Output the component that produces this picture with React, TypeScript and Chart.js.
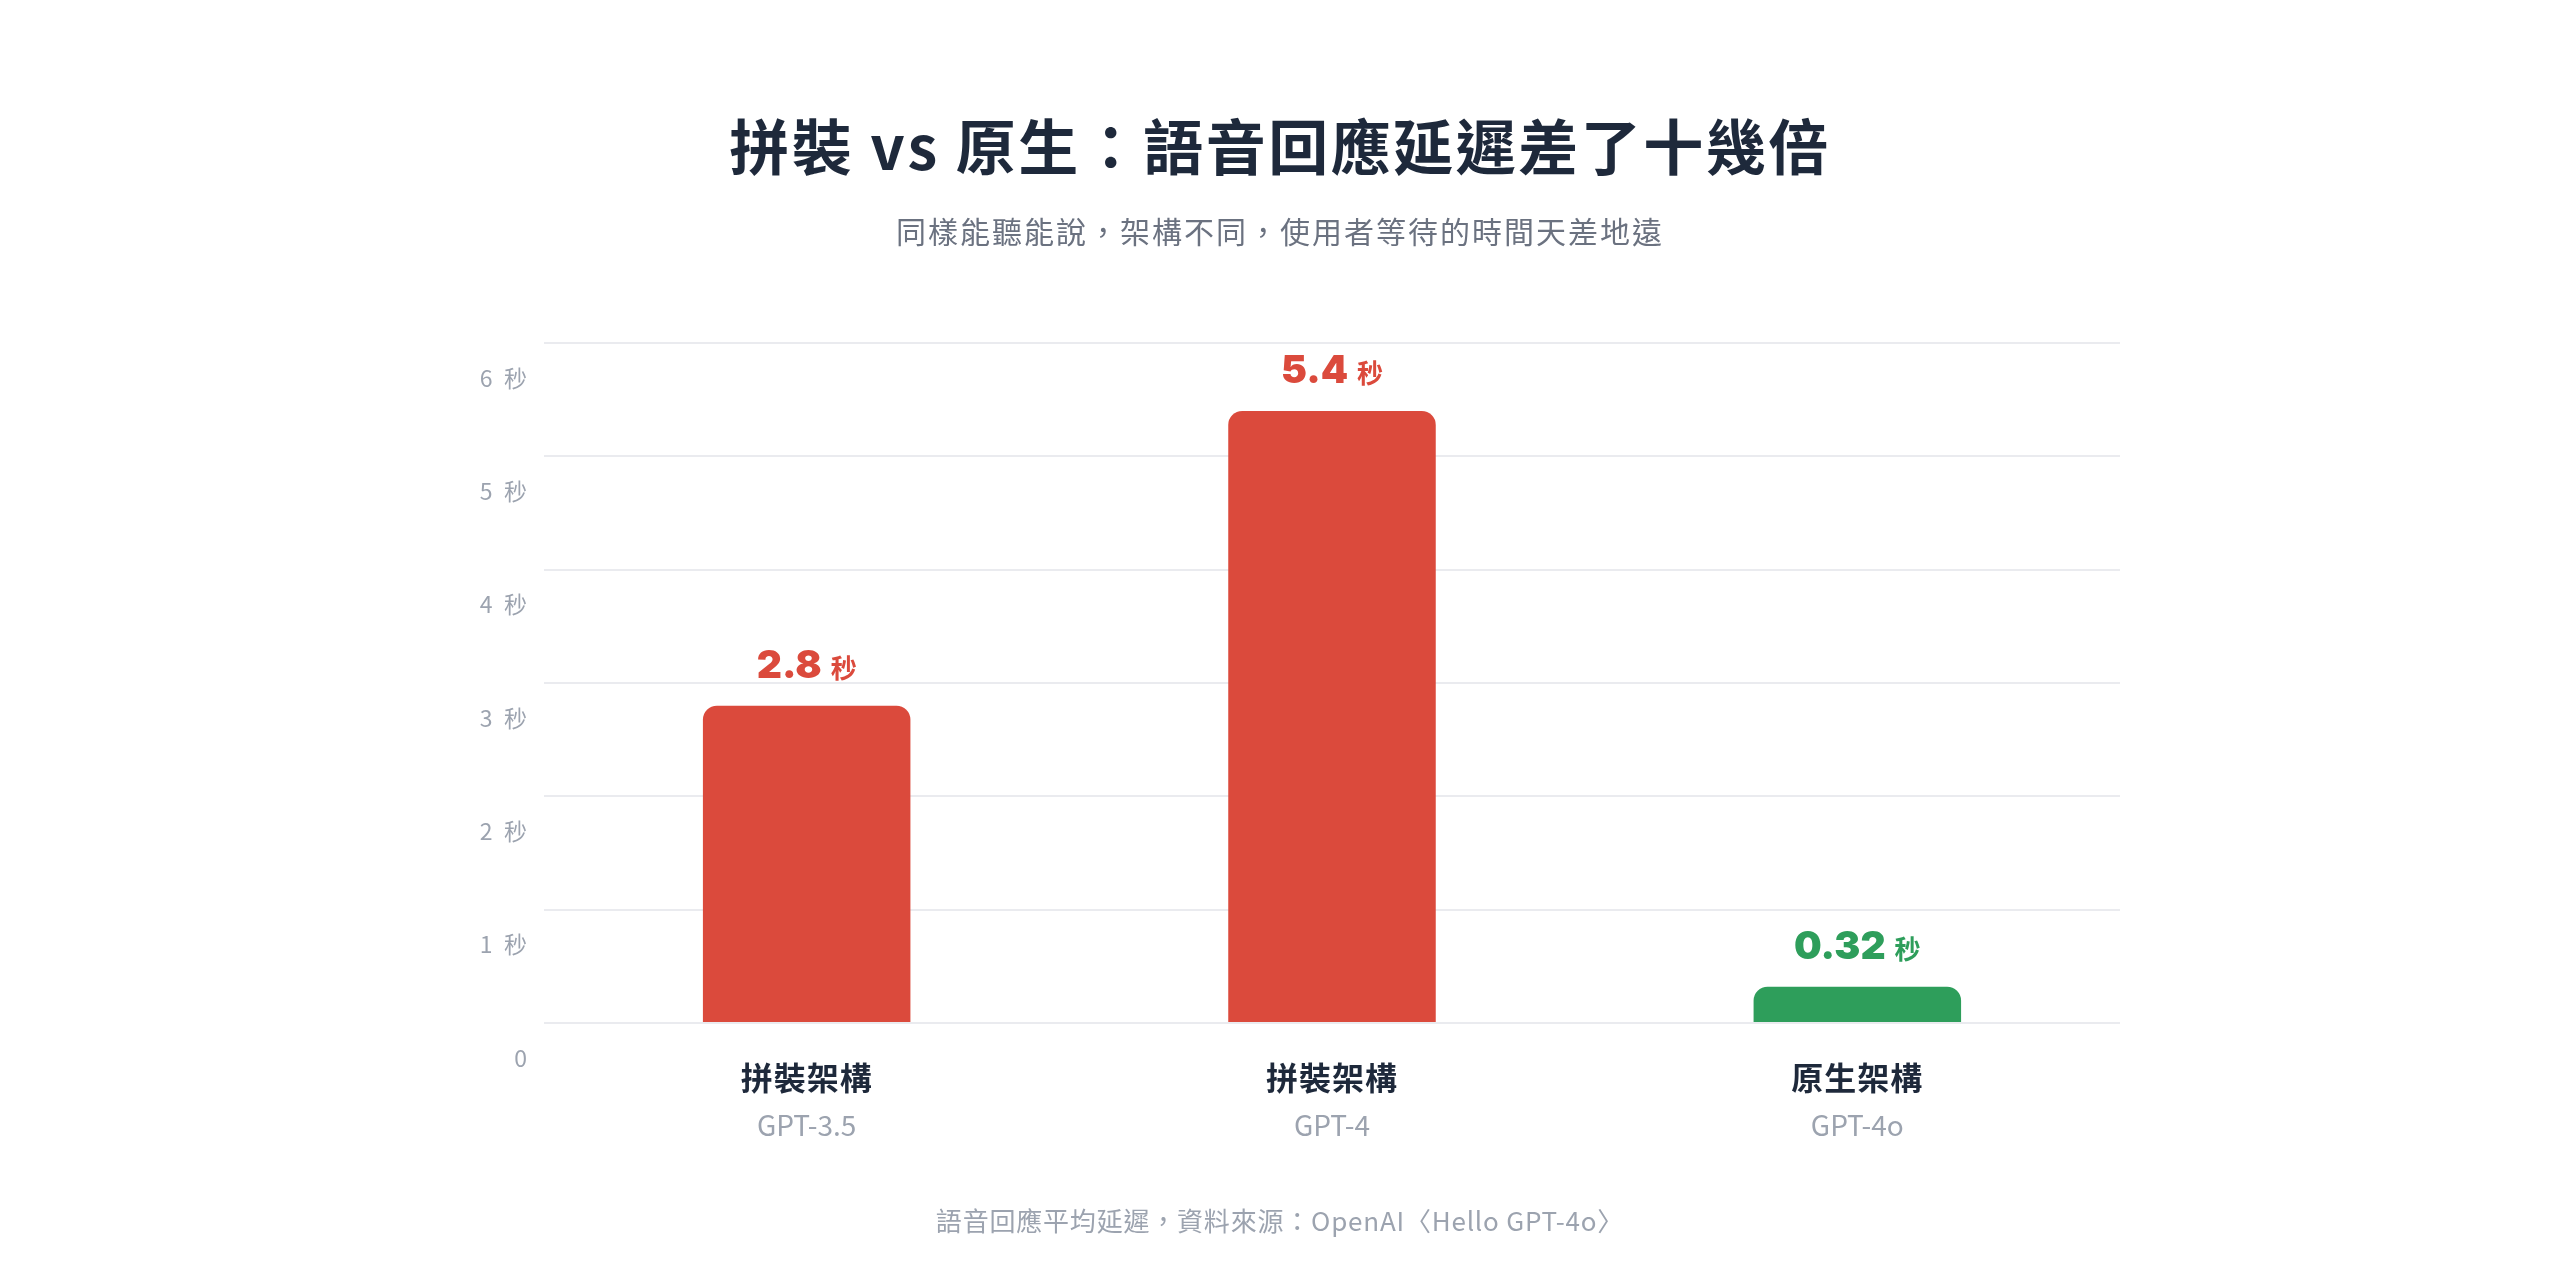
import React, { useEffect, useRef } from 'react';
import { Chart, registerables } from 'chart.js';

Chart.register(...registerables);

// ---- data ----
const categories = ['拼裝架構', '拼裝架構', '原生架構'];
const models = ['GPT-3.5', 'GPT-4', 'GPT-4o'];
const latencySeconds = [2.8, 5.4, 0.32];
const valueLabels = ['2.8', '5.4', '0.32'];
const barColors = ['#DB4A3C', '#DB4A3C', '#2E9E5B'];
const yMin = 0;
const yMax = 6;
const yStep = 1;
const unit = '秒';
const titleText = '拼裝 vs 原生：語音回應延遲差了十幾倍';
const subtitleText = '同樣能聽能說，架構不同，使用者等待的時間天差地遠';
const footerText = '語音回應平均延遲，資料來源：OpenAI〈Hello GPT-4o〉';

const FONT_CJK = '"Noto Sans CJK TC", "Noto Sans", sans-serif';
const FONT_NUM = 'Inter, "Noto Sans", sans-serif';

const W = 2560;
const H = 1263;

const textPlugin = {
  id: 'customText',
  afterDatasetsDraw(chart: any) {
    const ctx = chart.ctx as CanvasRenderingContext2D;
    const meta = chart.getDatasetMeta(0);
    ctx.save();
    meta.data.forEach((bar: any, i: number) => {
      const numText = valueLabels[i];
      ctx.font = `900 39px ${FONT_NUM}`;
      const wNum = ctx.measureText(numText).width;
      ctx.font = `700 26px ${FONT_CJK}`;
      const wUnit = ctx.measureText(unit).width;
      const gap = 9;
      const total = wNum + gap + wUnit;
      const left = bar.x - total / 2;
      const baseline = bar.y - 28;
      ctx.textAlign = 'left';
      ctx.textBaseline = 'alphabetic';
      ctx.fillStyle = barColors[i];
      ctx.font = `900 39px ${FONT_NUM}`;
      ctx.fillText(numText, left, baseline);
      ctx.font = `700 26px ${FONT_CJK}`;
      ctx.fillText(unit, left + wNum + gap, baseline);
    });
    ctx.restore();
  },
  afterDraw(chart: any) {
    const ctx = chart.ctx as CanvasRenderingContext2D;
    const cx = chart.width / 2;
    ctx.save();
    ctx.textAlign = 'center';
    ctx.textBaseline = 'middle';

    // title
    (ctx as any).letterSpacing = '2.5px';
    ctx.fillStyle = '#1E293B';
    ctx.font = `700 60px ${FONT_CJK}`;
    ctx.fillText(titleText, cx, 147);

    // subtitle
    (ctx as any).letterSpacing = '2px';
    ctx.fillStyle = '#6B7280';
    ctx.font = `400 30px ${FONT_CJK}`;
    ctx.fillText(subtitleText, cx, 232);

    // footer
    (ctx as any).letterSpacing = '0.8px';
    ctx.fillStyle = '#9CA3AF';
    ctx.font = `400 26px ${FONT_CJK}`;
    ctx.fillText(footerText, cx, 1221);

    // x labels
    const xs = chart.scales.x;
    categories.forEach((c, i) => {
      const x = xs.getPixelForValue(i);
      (ctx as any).letterSpacing = '1px';
      ctx.fillStyle = '#1E293B';
      ctx.font = `700 32px ${FONT_CJK}`;
      ctx.fillText(c, x, 1078);
      (ctx as any).letterSpacing = '0px';
      ctx.fillStyle = '#9CA3AF';
      ctx.font = `400 28px ${FONT_CJK}`;
      ctx.fillText(models[i], x, 1125);
    });
    ctx.restore();
  },
};

export default function App() {
  const ref = useRef<HTMLCanvasElement | null>(null);

  useEffect(() => {
    if (!ref.current) return;
    const chart = new Chart(ref.current, {
      type: 'bar',
      data: {
        labels: categories,
        datasets: [
          {
            data: latencySeconds,
            backgroundColor: barColors,
            borderRadius: 14,
            borderSkipped: 'start',
            barPercentage: 0.395,
            categoryPercentage: 1,
          },
        ],
      },
      options: {
        responsive: false,
        maintainAspectRatio: false,
        animation: false,
        events: [],
        layout: { padding: { top: 343, bottom: 240, left: 0, right: 440 } },
        plugins: {
          legend: { display: false },
          tooltip: { enabled: false },
          title: { display: false },
        },
        scales: {
          x: {
            display: false,
          },
          y: {
            min: yMin,
            max: yMax,
            afterFit: (scale: any) => {
              scale.width = 544;
            },
            border: { display: false },
            grid: {
              color: '#EAEBEF',
              lineWidth: 2,
              drawTicks: false,
            },
            ticks: {
              stepSize: yStep,
              padding: 17,
              labelOffset: 35,
              color: '#9CA3AF',
              font: { family: FONT_CJK, size: 23 },
              callback: (v: any) => (Number(v) === 0 ? '0' : `${v}\u2002${unit}`),
            },
          },
        },
      },
      plugins: [textPlugin],
    });
    return () => chart.destroy();
  }, []);

  return (
    <div style={{ position: 'fixed', left: 0, top: 0, width: W, height: H, background: '#FFFFFF' }}>
      <canvas ref={ref} width={W} height={H} style={{ display: 'block', width: W, height: H }} />
    </div>
  );
}
